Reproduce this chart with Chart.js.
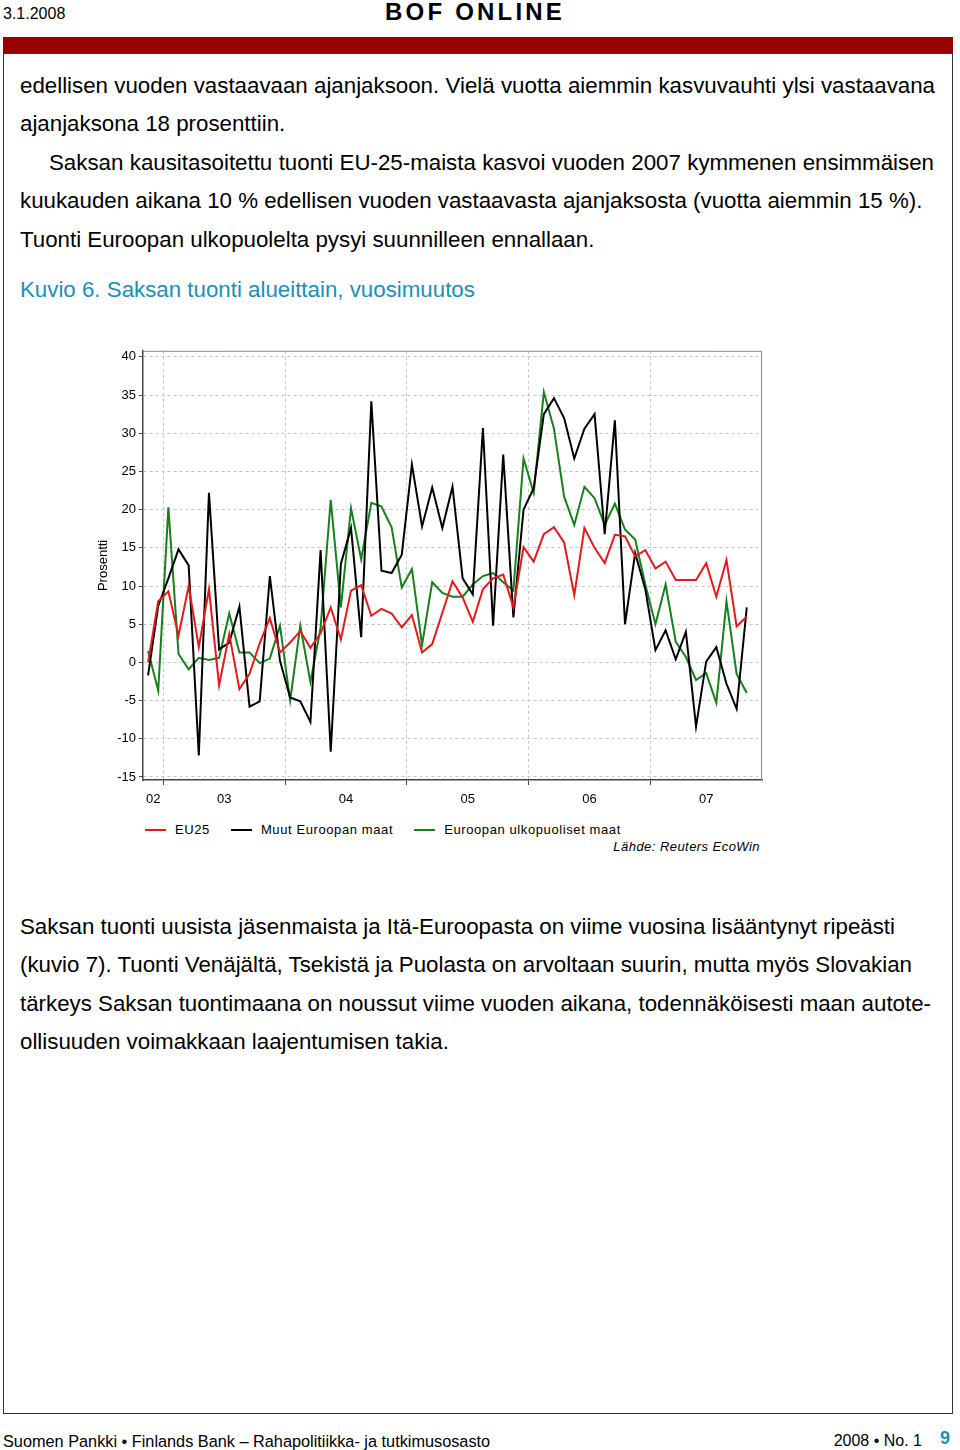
<!DOCTYPE html>
<html lang="fi">
<head>
<meta charset="utf-8">
<title>BOF ONLINE - Kuvio 6</title>
<script src="https://cdn.jsdelivr.net/npm/chart.js"></script>
<style>
    html, body { margin: 0; padding: 0; background: #fff; }
    body {
        width: 960px; height: 1450px; position: relative; overflow: hidden;
        font-family: Arial, 'Liberation Sans', sans-serif; color: #000;
    }
    .abs { position: absolute; white-space: nowrap; }
    .txt { font-size: 22.3px; line-height: 26px; }
    .just { text-align: justify; text-align-last: justify; white-space: normal; }
    #frame { position: absolute; left: 3px; top: 53px; width: 948px; height: 1359px; border: 1px solid #333; }
    #bar { position: absolute; left: 3px; top: 37px; width: 950px; height: 16px; background: #990000; }
    #chart-box { position: absolute; left: 80px; top: 340px; width: 700px; height: 480px; }
    #legend { position: absolute; left: 145px; top: 822px; display: flex; font-size: 13px; line-height: 16px; letter-spacing: 0.6px; }
    #legend .item { display: flex; align-items: center; margin-right: 21px; }
    #legend .swatch { width: 21px; height: 2px; margin-right: 9px; }
</style>
</head>
<body>

<div class="abs" style="left:3px; top:5px; font-size:16px; line-height:18px;">3.1.2008</div>
<div class="abs" style="left:385px; top:-2px; font-size:24px; line-height:28px; font-weight:bold; letter-spacing:3.2px;">BOF ONLINE</div>
<div id="bar"></div>
<div id="frame"></div>

<div class="abs txt just" style="left:20px; top:73px; width:915px;">edellisen vuoden vastaavaan ajanjaksoon. Vielä vuotta aiemmin kasvuvauhti ylsi vastaavana</div>
<div class="abs txt" style="left:20px; top:111px;">ajanjaksona 18 prosenttiin.</div>
<div class="abs txt just" style="left:49px; top:150px; width:885px;">Saksan kausitasoitettu tuonti EU-25-maista kasvoi vuoden 2007 kymmenen ensimmäisen</div>
<div class="abs txt" style="left:20px; top:188px;">kuukauden aikana 10 % edellisen vuoden vastaavasta ajanjaksosta (vuotta aiemmin 15 %).</div>
<div class="abs txt" style="left:20px; top:227px;">Tuonti Euroopan ulkopuolelta pysyi suunnilleen ennallaan.</div>

<div class="abs txt" style="left:20px; top:277px; color:#1c8fb6;">Kuvio 6. Saksan tuonti alueittain, vuosimuutos</div>

<div id="chart-box"><canvas id="imports-chart"></canvas></div>
<div id="legend"></div>
<div class="abs" style="right:200px; top:839px; font-size:13px; line-height:16px; font-style:italic; letter-spacing:0.45px;">Lähde: Reuters EcoWin</div>

<div class="abs txt" style="left:20px; top:914px;">Saksan tuonti uusista jäsenmaista ja Itä-Euroopasta on viime vuosina lisääntynyt ripeästi</div>
<div class="abs txt" style="left:20px; top:952px;">(kuvio 7). Tuonti Venäjältä, Tsekistä ja Puolasta on arvoltaan suurin, mutta myös Slovakian</div>
<div class="abs txt" style="left:20px; top:991px;">tärkeys Saksan tuontimaana on noussut viime vuoden aikana, todennäköisesti maan autote-</div>
<div class="abs txt" style="left:20px; top:1029px;">ollisuuden voimakkaan laajentumisen takia.</div>

<div class="abs" style="left:3px; top:1431px; font-size:16.3px; line-height:20px;">Suomen Pankki • Finlands Bank – Rahapolitiikka- ja tutkimusosasto</div>
<div class="abs" style="right:38px; top:1431px; font-size:16px; line-height:20px;">2008 • No. 1</div>
<div class="abs" style="left:940px; top:1427px; font-size:18px; line-height:22px; font-weight:bold; color:#1c8fb6;">9</div>

<script>
// Monthly data, Nov 2002 - Oct 2007 (year-on-year change, %)
const firstYear = 2002;
const firstMonth = 11;          // November
const axisMonths = 61;          // axis runs to the end of Nov 2007

const seriesNames = ['EU25', 'Muut Euroopan maat', 'Euroopan ulkopuoliset maat'];
const seriesColors = ['#e31a1c', '#000000', '#16801c'];

const eu25 = [
    0, 8, 9.3, 3.5, 10, 2, 9.6, -3, 3.7, -3.5, -1.5, 2.5,
    5.8, 1.3, 2.6, 4.1, 1.9, 3.8, 7.2, 3.0, 9.4, 10.1, 6.1, 7.0,
    6.4, 4.6, 6.2, 1.3, 2.4, 6.5, 10.6, 8.5, 5.3, 9.6, 11.0, 11.5,
    7.2, 15.1, 13.2, 16.8, 17.7, 15.7, 8.8, 17.6, 15.0, 13.0, 16.7, 16.5,
    13.9, 14.7, 12.3, 13.2, 10.8, 10.8, 10.8, 13.0, 8.6, 13.4, 4.7, 6.0
];
const otherEurope = [
    -1.7, 7.4, 11, 14.8, 12.7, -12.2, 22.2, 1.7, 2.6, 7.3, -5.8, -5.1,
    11.3, 0.2, -4.6, -5.1, -7.8, 14.7, -11.7, 12.9, 17.6, 3.3, 34.2, 12.0,
    11.7, 14.1, 25.9, 17.8, 22.9, 17.6, 23.0, 11.0, 8.9, 30.7, 4.8, 27.2,
    5.9, 20.0, 22.8, 32.5, 34.6, 32.0, 26.7, 30.6, 32.5, 16.8, 31.7, 5.0,
    14.3, 9.6, 1.6, 4.2, 0.4, 4.0, -8.4, 0.1, 2.0, -2.8, -6.1, 7.2
];
const outsideEurope = [
    1.5, -3.7, 20.3, 1.1, -0.9, 0.6, 0.3, 0.6, 6.4, 1.3, 1.3, -0.1,
    0.5, 4.8, -5.0, 4.8, -2.6, 4.5, 21.3, 7.2, 20.2, 13.5, 20.9, 20.4,
    17.7, 9.8, 12.2, 2.3, 10.5, 9.1, 8.6, 8.6, 10.2, 11.3, 11.7, 10.5,
    9.4, 26.7, 22.2, 35.4, 30.6, 21.7, 18.0, 23.0, 21.5, 18.0, 20.8, 17.4,
    16.1, 10.2, 5.0, 10.2, 2.7, 0.7, -2.3, -1.4, -5.3, 8.0, -1.5, -4.0
];

const yTicks = [-15, -10, -5, 0, 5, 10, 15, 20, 25, 30, 35, 40];
const yearLabels = ['02', '03', '04', '05', '06', '07'];

document.addEventListener('DOMContentLoaded', function() {
    buildLegend();
    initImportsChart(document.getElementById('imports-chart'));
});

/**
 * Legend under the chart, built from the series names and colours
 */
function buildLegend() {
    const legend = document.getElementById('legend');
    seriesNames.forEach(function(name, i) {
        const item = document.createElement('div');
        item.className = 'item';
        item.innerHTML = '<span class="swatch" style="background:' + seriesColors[i] + '"></span>' + name;
        legend.appendChild(item);
    });
}

/**
 * Month index -> x position helpers (index 0 = first data month)
 */
function yearBoundaries() {
    // index of each January, as the left edge of its month slot
    const out = [];
    for (let i = 0; i < axisMonths; i++) {
        if ((firstMonth - 1 + i) % 12 === 0) out.push(i - 0.5);
    }
    return out;
}

function yearLabelPositions() {
    const edges = [-0.5].concat(yearBoundaries(), [axisMonths - 0.5]);
    const pos = [];
    for (let i = 0; i < edges.length - 1; i++) pos.push((edges[i] + edges[i + 1]) / 2);
    return pos;
}

function initImportsChart(canvas) {
    Chart.defaults.font.family = "Arial, 'Liberation Sans', sans-serif";
    Chart.defaults.font.size = 13;
    Chart.defaults.color = '#000';

    const boundaries = yearBoundaries();
    const labelPos = yearLabelPositions();
    const xTicks = boundaries.concat(labelPos).sort((a, b) => a - b);
    const isBoundary = v => boundaries.indexOf(v) !== -1;

    const toPoints = arr => arr.map((v, i) => ({ x: i, y: v }));
    const values = [eu25, otherEurope, outsideEurope];

    const data = {
        datasets: values.map((arr, i) => ({
            label: seriesNames[i],
            data: toPoints(arr),
            borderColor: seriesColors[i],
            borderWidth: 2,
            pointRadius: 0,
            tension: 0,
            fill: false
        }))
    };

    // top and right border of the plot box
    const plotFrame = {
        id: 'plotFrame',
        beforeDatasetsDraw(chart) {
            const { ctx, chartArea: a } = chart;
            ctx.save();
            ctx.strokeStyle = '#8a8a8a';
            ctx.lineWidth = 1;
            ctx.beginPath();
            ctx.moveTo(a.left, a.top + 0.5);
            ctx.lineTo(a.right - 0.5, a.top + 0.5);
            ctx.lineTo(a.right - 0.5, a.bottom);
            ctx.stroke();
            ctx.restore();
        }
    };

    new Chart(canvas, {
        type: 'line',
        data: data,
        plugins: [plotFrame],
        options: {
            responsive: true,
            maintainAspectRatio: false,
            animation: false,
            layout: { padding: { left: 11, top: 9, right: 18, bottom: 0 } },
            plugins: {
                legend: { display: false },
                tooltip: { enabled: false }
            },
            scales: {
                x: {
                    type: 'linear',
                    min: -0.5,
                    max: axisMonths - 0.5,
                    afterBuildTicks: s => { s.ticks = xTicks.map(v => ({ value: v })); },
                    afterFit: s => { s.height = 40; },
                    ticks: {
                        autoSkip: false,
                        maxRotation: 0,
                        padding: 7,
                        callback: v => {
                            const k = labelPos.indexOf(v);
                            return k === -1 ? '' : yearLabels[k];
                        }
                    },
                    grid: {
                        tickLength: 5,
                        color: ctx => (ctx.tick && isBoundary(ctx.tick.value)) ? '#c4c4c4' : 'rgba(0,0,0,0)',
                        tickColor: ctx => (ctx.tick && isBoundary(ctx.tick.value)) ? '#444' : 'rgba(0,0,0,0)'
                    },
                    border: { color: '#444', width: 1.5, dash: [3, 3] }
                },
                y: {
                    min: -15.4,
                    max: 40.8,
                    afterBuildTicks: s => { s.ticks = yTicks.map(v => ({ value: v })); },
                    afterFit: s => { s.width = 52; },
                    ticks: {
                        padding: 3,
                        callback: v => String(v)
                    },
                    grid: {
                        tickLength: 4,
                        color: '#c4c4c4',
                        tickColor: '#444'
                    },
                    border: { color: '#444', width: 1.5, dash: [3, 3] },
                    title: {
                        display: true,
                        text: 'Prosentti',
                        padding: { top: 5, bottom: 0 }
                    }
                }
            }
        }
    });
}
</script>
</body>
</html>
